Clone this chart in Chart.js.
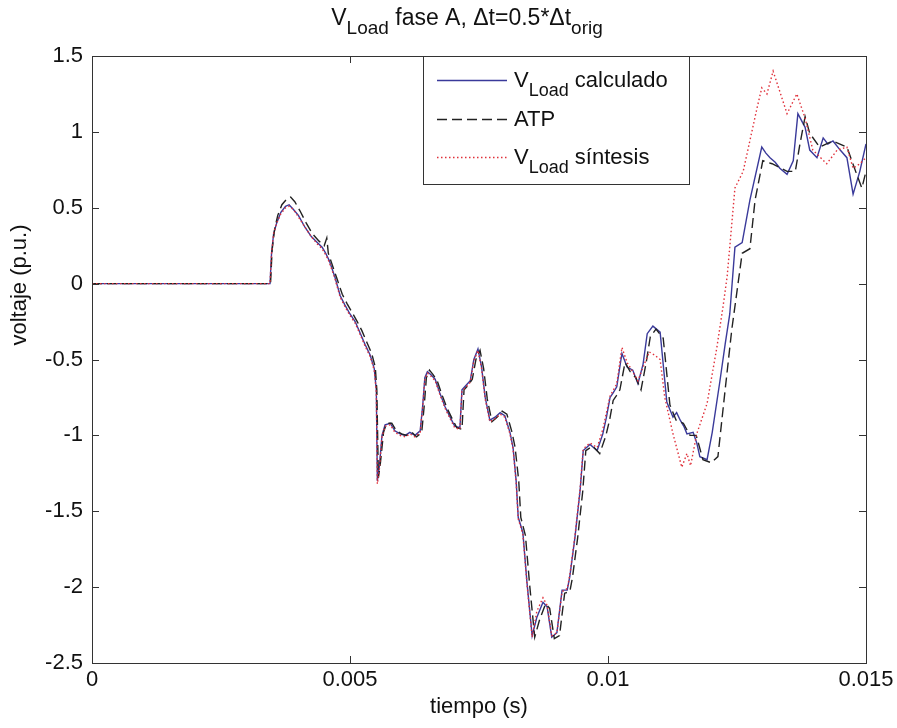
<!DOCTYPE html>
<html>
<head>
<meta charset="utf-8">
<script src="https://cdn.jsdelivr.net/npm/chart.js@4/dist/chart.umd.min.js"></script>
<style>
  html, body { margin: 0; padding: 0; background: #ffffff; }
  #wrap { width: 897px; height: 728px; }
</style>
</head>
<body>
<div id="wrap"><canvas id="c" width="897" height="728"></canvas></div>
<script>
// Load voltage, phase A: time (s) and voltage (p.u.) for each trace
const tCalc = [0, 0.00345, 0.00348, 0.00352, 0.00358, 0.00366, 0.00375, 0.00382, 0.00390, 0.00400, 0.00413, 0.00425, 0.00437, 0.00446, 0.00453, 0.00460, 0.00471, 0.00481, 0.00490, 0.00500, 0.00510, 0.00519, 0.00529, 0.00539, 0.00547, 0.00551, 0.00553, 0.00557, 0.00562, 0.00568, 0.00578, 0.00587, 0.00597, 0.00607, 0.00616, 0.00626, 0.00636, 0.00641, 0.00645, 0.00650, 0.00657, 0.00665, 0.00674, 0.00684, 0.00694, 0.00703, 0.00713, 0.00717, 0.00725, 0.00733, 0.00740, 0.00748, 0.00755, 0.00762, 0.00771, 0.00781, 0.00791, 0.00800, 0.00810, 0.00816, 0.00822, 0.00826, 0.00835, 0.00843, 0.00853, 0.00862, 0.00874, 0.00882, 0.00891, 0.00901, 0.00911, 0.00921, 0.00926, 0.00936, 0.00946, 0.00952, 0.00965, 0.00979, 0.00990, 0.00997, 0.01004, 0.01010, 0.01017, 0.01027, 0.01037, 0.01048, 0.01058, 0.01068, 0.01076, 0.01087, 0.01101, 0.01114, 0.01126, 0.01133, 0.01140, 0.01147, 0.01153, 0.01165, 0.01172, 0.01178, 0.01192, 0.01202, 0.01217, 0.01227, 0.01236, 0.01246, 0.01260, 0.01275, 0.01298, 0.01306, 0.01314, 0.01324, 0.01333, 0.01347, 0.01359, 0.01368, 0.01382, 0.01391, 0.01405, 0.01417, 0.01426, 0.01436, 0.01450, 0.01463, 0.01475, 0.01488, 0.01500];
const vCalc = [0, 0, 0.20, 0.33, 0.40, 0.47, 0.51, 0.52, 0.49, 0.45, 0.37, 0.31, 0.27, 0.24, 0.20, 0.15, 0.04, -0.08, -0.14, -0.20, -0.25, -0.32, -0.40, -0.47, -0.56, -0.70, -1.30, -1.20, -1.00, -0.93, -0.92, -0.97, -0.99, -1.00, -0.98, -1.00, -0.97, -0.80, -0.62, -0.58, -0.60, -0.63, -0.72, -0.81, -0.88, -0.94, -0.95, -0.70, -0.67, -0.64, -0.50, -0.43, -0.55, -0.75, -0.90, -0.88, -0.85, -0.87, -0.98, -1.08, -1.30, -1.54, -1.64, -1.97, -2.32, -2.20, -2.10, -2.13, -2.33, -2.30, -2.02, -2.02, -1.93, -1.67, -1.36, -1.10, -1.06, -1.10, -0.99, -0.88, -0.75, -0.72, -0.68, -0.46, -0.55, -0.57, -0.66, -0.53, -0.33, -0.28, -0.32, -0.78, -0.88, -0.85, -0.90, -0.94, -0.99, -0.98, -1.05, -1.14, -1.16, -0.98, -0.64, -0.40, -0.20, 0.24, 0.27, 0.55, 0.90, 0.86, 0.83, 0.80, 0.76, 0.72, 0.81, 1.12, 1.03, 0.88, 0.83, 0.96, 0.92, 0.94, 0.88, 0.83, 0.59, 0.74, 0.92];

const tAtp = [0, 0.00346, 0.00349, 0.00354, 0.00360, 0.00368, 0.00378, 0.00385, 0.00393, 0.00403, 0.00415, 0.00427, 0.00440, 0.00450, 0.00455, 0.00458, 0.00464, 0.00475, 0.00485, 0.00494, 0.00504, 0.00514, 0.00523, 0.00533, 0.00542, 0.00549, 0.00552, 0.00555, 0.00559, 0.00565, 0.00571, 0.00581, 0.00590, 0.00600, 0.00610, 0.00620, 0.00629, 0.00639, 0.00644, 0.00648, 0.00654, 0.00661, 0.00669, 0.00678, 0.00688, 0.00698, 0.00707, 0.00717, 0.00721, 0.00729, 0.00737, 0.00744, 0.00752, 0.00759, 0.00766, 0.00775, 0.00785, 0.00795, 0.00804, 0.00814, 0.00820, 0.00827, 0.00831, 0.00840, 0.00848, 0.00858, 0.00867, 0.00879, 0.00887, 0.00896, 0.00906, 0.00916, 0.00926, 0.00931, 0.00941, 0.00951, 0.00957, 0.00970, 0.00984, 0.00996, 0.01003, 0.01010, 0.01016, 0.01023, 0.01033, 0.01043, 0.01054, 0.01064, 0.01074, 0.01082, 0.01093, 0.01107, 0.01120, 0.01132, 0.01146, 0.01159, 0.01171, 0.01184, 0.01200, 0.01213, 0.01227, 0.01240, 0.01252, 0.01260, 0.01275, 0.01285, 0.01300, 0.01318, 0.01347, 0.01363, 0.01372, 0.01382, 0.01391, 0.01410, 0.01436, 0.01463, 0.01482, 0.01492, 0.01500];
const vAtp = [0, 0, 0.22, 0.36, 0.45, 0.52, 0.56, 0.57, 0.54, 0.48, 0.40, 0.33, 0.28, 0.25, 0.30, 0.20, 0.14, 0.03, -0.07, -0.13, -0.19, -0.25, -0.31, -0.39, -0.46, -0.55, -0.70, -1.28, -1.18, -0.98, -0.92, -0.92, -0.97, -0.99, -1.00, -0.98, -1.01, -0.98, -0.80, -0.62, -0.57, -0.60, -0.64, -0.73, -0.82, -0.89, -0.95, -0.96, -0.70, -0.67, -0.63, -0.50, -0.44, -0.56, -0.76, -0.91, -0.88, -0.84, -0.86, -0.98, -1.08, -1.30, -1.54, -1.66, -1.98, -2.33, -2.22, -2.11, -2.14, -2.34, -2.32, -2.04, -2.03, -1.94, -1.68, -1.37, -1.10, -1.07, -1.12, -1.00, -0.90, -0.77, -0.74, -0.70, -0.52, -0.58, -0.62, -0.70, -0.52, -0.35, -0.30, -0.36, -0.80, -0.90, -0.92, -1.00, -1.00, -1.16, -1.18, -1.14, -0.70, -0.30, 0.00, 0.20, 0.23, 0.55, 0.81, 0.79, 0.74, 0.74, 0.92, 1.10, 0.99, 0.90, 0.94, 0.90, 0.72, 0.63, 0.74];

const tSin = [0, 0.00345, 0.00348, 0.00352, 0.00358, 0.00366, 0.00375, 0.00382, 0.00390, 0.00400, 0.00413, 0.00425, 0.00437, 0.00446, 0.00453, 0.00460, 0.00471, 0.00481, 0.00490, 0.00500, 0.00510, 0.00519, 0.00529, 0.00539, 0.00547, 0.00551, 0.00553, 0.00557, 0.00562, 0.00568, 0.00578, 0.00587, 0.00597, 0.00607, 0.00616, 0.00626, 0.00636, 0.00641, 0.00645, 0.00650, 0.00657, 0.00665, 0.00674, 0.00684, 0.00694, 0.00703, 0.00713, 0.00717, 0.00725, 0.00733, 0.00740, 0.00748, 0.00755, 0.00762, 0.00771, 0.00781, 0.00791, 0.00800, 0.00810, 0.00816, 0.00822, 0.00826, 0.00835, 0.00843, 0.00853, 0.00862, 0.00874, 0.00882, 0.00891, 0.00901, 0.00911, 0.00921, 0.00926, 0.00936, 0.00946, 0.00952, 0.00965, 0.00979, 0.00990, 0.01004, 0.01017, 0.01027, 0.01037, 0.01048, 0.01058, 0.01068, 0.01080, 0.01090, 0.01101, 0.01110, 0.01126, 0.01143, 0.01153, 0.01160, 0.01172, 0.01192, 0.01211, 0.01223, 0.01231, 0.01246, 0.01262, 0.01289, 0.01298, 0.01308, 0.01320, 0.01347, 0.01366, 0.01382, 0.01397, 0.01424, 0.01444, 0.01463, 0.01475, 0.01488, 0.01500];
const vSin = [0, 0, 0.20, 0.33, 0.40, 0.46, 0.50, 0.51, 0.49, 0.44, 0.37, 0.31, 0.26, 0.23, 0.19, 0.14, 0.03, -0.09, -0.15, -0.21, -0.26, -0.33, -0.41, -0.48, -0.57, -0.72, -1.32, -1.22, -1.01, -0.94, -0.93, -0.98, -1.00, -1.01, -0.99, -1.01, -0.98, -0.81, -0.63, -0.59, -0.61, -0.64, -0.73, -0.82, -0.89, -0.95, -0.96, -0.71, -0.68, -0.65, -0.51, -0.44, -0.56, -0.76, -0.91, -0.89, -0.86, -0.88, -0.99, -1.09, -1.31, -1.55, -1.65, -1.98, -2.33, -2.16, -2.07, -2.12, -2.32, -2.30, -2.03, -2.01, -1.92, -1.66, -1.35, -1.09, -1.05, -1.08, -0.96, -0.74, -0.66, -0.42, -0.52, -0.58, -0.64, -0.55, -0.45, -0.47, -0.50, -0.75, -0.99, -1.21, -1.12, -1.20, -0.99, -0.79, -0.42, -0.15, 0.05, 0.63, 0.74, 1.16, 1.29, 1.25, 1.40, 1.12, 1.25, 1.09, 0.88, 0.79, 0.88, 0.90, 0.76, 0.79, 0.83];

// Axis ticks and their printed labels
const xTicks = [0, 0.005, 0.01, 0.015];
const xTickLabels = ['0', '0.005', '0.01', '0.015'];
const yTicks = [-2.5, -2, -1.5, -1, -0.5, 0, 0.5, 1, 1.5];
const yTickLabels = ['-2.5', '-2', '-1.5', '-1', '-0.5', '0', '0.5', '1', '1.5'];

// Series names: [main, subscript, rest]
const seriesNames = [
  ['V', 'Load', ' calculado'],
  ['ATP', '', ''],
  ['V', 'Load', ' síntesis']
];

const FONT_FAMILY = '"Liberation Sans", Arial, Helvetica, sans-serif';
const MAIN_SIZE = 22;
const SUB_SIZE = 18;
const SUB_DROP = 9;
const TEXT_COLOR = '#111111';

function pairs(ts, vs) { return ts.map((t, i) => ({ x: t, y: vs[i] })); }

// Draws a run of text pieces, some of them as subscripts
function drawRich(ctx, parts, x, y, align, mainSize, subSize) {
  const ms = mainSize || MAIN_SIZE, ss = subSize || SUB_SIZE;
  let w = 0;
  parts.forEach(p => {
    ctx.font = (p.sub ? ss : ms) + 'px ' + FONT_FAMILY;
    p.w = ctx.measureText(p.text).width;
    w += p.w;
  });
  let cx = align === 'center' ? x - w / 2 : (align === 'right' ? x - w : x);
  ctx.textAlign = 'left';
  ctx.textBaseline = 'alphabetic';
  parts.forEach(p => {
    ctx.font = (p.sub ? ss : ms) + 'px ' + FONT_FAMILY;
    ctx.fillText(p.text, cx, y + (p.sub ? SUB_DROP : 0));
    cx += p.w;
  });
}

const frame = {
  id: 'frame',
  afterDatasetsDraw(chart) {
    const ctx = chart.ctx;
    const a = chart.chartArea;
    const xs = chart.scales.x, ys = chart.scales.y;
    ctx.save();
    ctx.strokeStyle = '#333333';
    ctx.lineWidth = 1;
    ctx.strokeRect(Math.round(a.left) + 0.5, Math.round(a.top) + 0.5, Math.round(a.right - a.left), Math.round(a.bottom - a.top));
    const TL = 7;
    ctx.beginPath();
    xTicks.forEach(v => {
      const px = Math.round(xs.getPixelForValue(v)) + 0.5;
      ctx.moveTo(px, a.bottom); ctx.lineTo(px, a.bottom - TL);
      ctx.moveTo(px, a.top); ctx.lineTo(px, a.top + TL);
    });
    yTicks.forEach(v => {
      const py = Math.round(ys.getPixelForValue(v)) + 0.5;
      ctx.moveTo(a.left, py); ctx.lineTo(a.left + TL, py);
      ctx.moveTo(a.right, py); ctx.lineTo(a.right - TL, py);
    });
    ctx.stroke();

    // tick labels
    ctx.fillStyle = TEXT_COLOR;
    ctx.font = MAIN_SIZE + 'px ' + FONT_FAMILY;
    ctx.textAlign = 'right';
    ctx.textBaseline = 'middle';
    yTicks.forEach((v, i) => {
      ctx.fillText(yTickLabels[i], a.left - 9, ys.getPixelForValue(v));
    });
    ctx.textAlign = 'center';
    ctx.textBaseline = 'top';
    xTicks.forEach((v, i) => {
      ctx.fillText(xTickLabels[i], xs.getPixelForValue(v), a.bottom + 6);
    });

    // axis titles
    ctx.textBaseline = 'alphabetic';
    ctx.fillText('tiempo (s)', (a.left + a.right) / 2, 713);
    ctx.save();
    ctx.translate(26, 285);
    ctx.rotate(-Math.PI / 2);
    ctx.textAlign = 'center';
    ctx.fillText('voltaje (p.u.)', 0, 0);
    ctx.restore();

    // title
    drawRich(ctx, [
      { text: 'V' }, { text: 'Load', sub: true },
      { text: ' fase A, \u0394t=0.5*\u0394t' }, { text: 'orig', sub: true }
    ], 467, 25, 'center', 23, 19);

    // legend
    const lx0 = 423, ly0 = Math.round(a.top) + 0.5, lx1 = 689, ly1 = 184.5;
    ctx.fillStyle = '#ffffff';
    ctx.fillRect(lx0, ly0, lx1 - lx0, ly1 - ly0);
    ctx.strokeStyle = '#333333';
    ctx.lineWidth = 1;
    ctx.strokeRect(lx0 + 0.5, ly0, lx1 - lx0, ly1 - ly0);
    const rows = [80, 119, 157];
    chart.data.datasets.forEach((ds, i) => {
      ctx.save();
      ctx.strokeStyle = ds.borderColor;
      ctx.lineWidth = ds.borderWidth;
      ctx.setLineDash(ds.borderDash || []);
      ctx.beginPath();
      ctx.moveTo(437, rows[i] + 0.5);
      ctx.lineTo(507, rows[i] + 0.5);
      ctx.stroke();
      ctx.restore();
      ctx.fillStyle = TEXT_COLOR;
      const n = seriesNames[i];
      const parts = [{ text: n[0] }];
      if (n[1]) parts.push({ text: n[1], sub: true });
      if (n[2]) parts.push({ text: n[2] });
      drawRich(ctx, parts, 514, rows[i] + 7, 'left');
    });
    ctx.restore();
  }
};

new Chart(document.getElementById('c'), {
  type: 'line',
  data: {
    datasets: [
      { label: 'V Load calculado', data: pairs(tCalc, vCalc), borderColor: '#3a3a9a', borderWidth: 1.4, pointRadius: 0, order: 3 },
      { label: 'ATP', data: pairs(tAtp, vAtp), borderColor: '#222222', borderWidth: 1.4, borderDash: [10, 5], pointRadius: 0, order: 2 },
      { label: 'V Load síntesis', data: pairs(tSin, vSin), borderColor: '#e0303a', borderWidth: 1.4, borderDash: [1.5, 2.5], pointRadius: 0, order: 1 }
    ]
  },
  options: {
    responsive: false,
    animation: false,
    devicePixelRatio: 1,
    layout: { padding: { left: 92, right: 31, top: 56, bottom: 65 } },
    plugins: { legend: { display: false }, title: { display: false }, tooltip: { enabled: false } },
    elements: { line: { tension: 0, fill: false } },
    scales: {
      x: { type: 'linear', min: 0, max: 0.015, ticks: { display: false, stepSize: 0.005 }, grid: { display: false }, border: { display: false }, afterFit: s => { s.height = 0; } },
      y: { type: 'linear', min: -2.5, max: 1.5, ticks: { display: false, stepSize: 0.5 }, grid: { display: false }, border: { display: false }, afterFit: s => { s.width = 0; } }
    }
  },
  plugins: [frame]
});
</script>
</body>
</html>
